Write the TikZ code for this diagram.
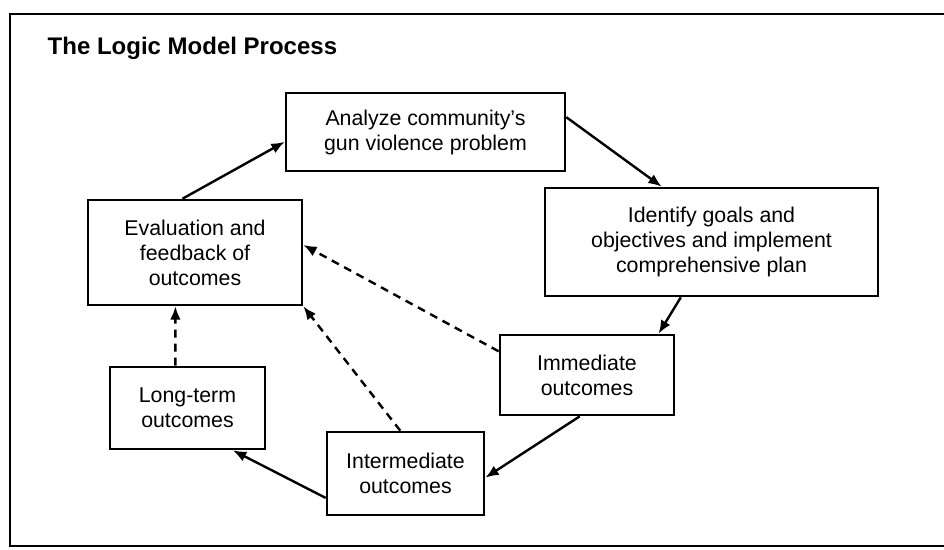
\documentclass[tikz,border=0pt]{standalone}
\usepackage{fontspec}
\setmainfont{Liberation Sans}
\usetikzlibrary{positioning,arrows.meta}

\tikzset{
  stage/.style={draw, line width=2pt, align=center, inner sep=2pt,
    font=\fontsize{16}{18.75}\selectfont},
  flow/.style={-{Latex[length=10pt,width=8pt]}, line width=1.8pt},
  feedback/.style={-{Latex[length=10pt,width=8pt]}, line width=1.8pt, dash pattern=on 6pt off 4.5pt}
}

\begin{document}
\begin{tikzpicture}[x=0.75pt,y=-0.75pt]
            \useasboundingbox (0,0) rectangle (944,549);
            % frame and title
            \draw[line width=2pt] (10,14) rectangle (960,546);
            \node[anchor=base west, font=\bfseries\fontsize{18}{21}\selectfont] (title) at (43,55) {The Logic Model Process};

            % stages of the cycle
            \node[stage, minimum width=279*0.75pt, minimum height=78*0.75pt] (analyze) at (425.5,132) {Analyze community's\\gun violence problem};
            \node[stage, minimum width=333*0.75pt, minimum height=108*0.75pt] (identify) at (711.5,242) {Identify goals and\\objectives and implement\\comprehensive plan};
            \node[stage, minimum width=174*0.75pt, minimum height=80*0.75pt] (immediate) at (587,375) {Immediate\\outcomes};
            \node[stage, minimum width=157*0.75pt, minimum height=83*0.75pt] (intermediate) at (405.5,473.5) {Intermediate\\outcomes};
            \node[stage, minimum width=155*0.75pt, minimum height=82*0.75pt] (longterm) at (187.5,408) {Long-term\\outcomes};
            \node[stage, minimum width=214*0.75pt, minimum height=105*0.75pt] (evaluation) at (195,252.5) {Evaluation and\\feedback of\\outcomes};

            % main cycle
            \draw[flow] (evaluation.103) -- (analyze.184);
            \draw[flow] (analyze.6) -- (identify.132);
            \draw[flow] (identify.241) -- (immediate.30);
            \draw[flow] (immediate.260) -- (intermediate.357.5);
            \draw[flow] (intermediate.197) -- (longterm.317);

            % feedback
            \draw[feedback] (longterm.106) -- (evaluation.250);
            \draw[feedback] (intermediate.97.5) -- (evaluation.south east);
            \draw[feedback] (immediate.165) -- (evaluation.4);
        \end{tikzpicture}
\end{document}
